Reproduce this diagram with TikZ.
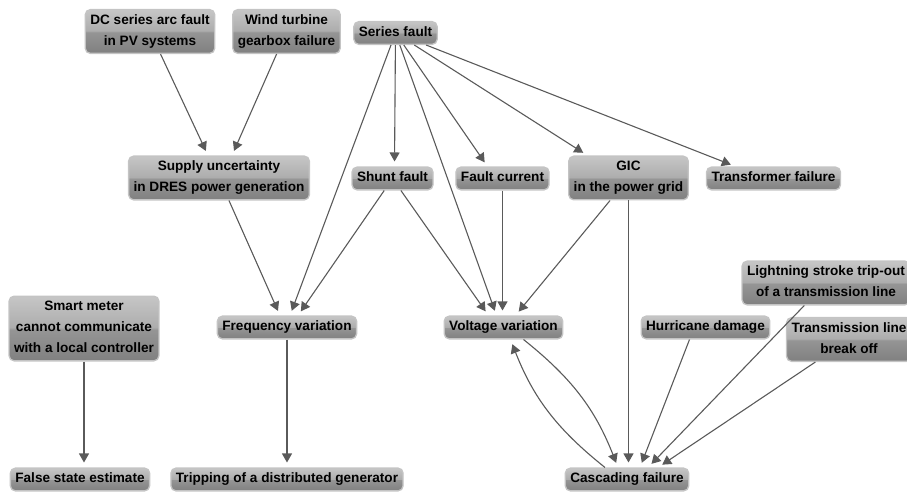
\documentclass[tikz,border=0pt]{standalone}
\usepackage{fontspec}
\setmainfont{Liberation Sans}
\usetikzlibrary{arrows.meta}
\definecolor{gT}{HTML}{C6C6C6}
\definecolor{gU}{HTML}{ADADAD}
\definecolor{gL}{HTML}{959595}
\definecolor{gB}{HTML}{808080}
\definecolor{edgec}{HTML}{5A5A5A}
\definecolor{rim}{HTML}{C4C4C4}
\pgfdeclareverticalshading{gloss}{100bp}{color(0bp)=(gB); color(25bp)=(gB); color(49bp)=(gL); color(51bp)=(gU); color(75bp)=(gT); color(100bp)=(gT)}
\newcommand{\vs}{\rule[-2.9pt]{0pt}{12.7pt}}
\tikzset{
  box/.style={rounded corners=5pt, shade, shading=gloss, draw=rim, line width=1.3pt,
    font=\fontsize{13.6}{21}\selectfont\bfseries, align=center, inner xsep=5pt, inner ysep=5pt, text=black},
  arr/.style={draw=edgec, line width=1.1pt, -{Triangle[length=9pt,width=10pt]}, shorten >=5pt}
}
\begin{document}
\begin{tikzpicture}[x=1pt,y=-1pt]
\useasboundingbox (0,0) rectangle (907,494);
\node[box] (dc) at (150,31.5) {\vs DC series arc fault\\\vs in PV systems};
\node[box] (wind) at (286.5,31.5) {\vs Wind turbine\\\vs gearbox failure};
\node[box] (series) at (395.5,33) {\vs Series fault};
\node[box] (supply) at (219,178) {\vs Supply uncertainty\\\vs in DRES power generation};
\node[box] (shunt) at (392.5,178.5) {\vs Shunt fault};
\node[box] (fcur) at (502.5,178.5) {\vs Fault current};
\node[box] (gic) at (628.5,178) {\vs GIC\\\vs in the power grid};
\node[box] (trans) at (773.5,178.5) {\vs Transformer failure};
\node[box] (light) at (826,283) {\vs Lightning stroke trip-out\\\vs of a transmission line};
\node[box] (smart) at (84,328.5) {\vs Smart meter\\\vs cannot communicate\\\vs with a local controller};
\node[box] (freq) at (287,327.5) {\vs Frequency variation};
\node[box] (volt) at (503.5,327.5) {\vs Voltage variation};
\node[box] (hurr) at (705.5,327.5) {\vs Hurricane damage};
\node[box] (tbreak) at (849,339.5) {\vs Transmission line\\\vs break off};
\node[box] (false) at (80,479.5) {\vs False state estimate};
\node[box] (trip) at (287,479.5) {\vs Tripping of a distributed generator};
\node[box] (casc) at (627,479.5) {\vs Cascading failure};

\draw[arr] (dc) -- ([xshift=-11pt]supply.north);
\draw[arr] (wind) -- ([xshift=13pt]supply.north);
\draw[arr] (series) -- ([xshift=2pt]shunt.north);
\draw[arr] (series) -- ([xshift=-15pt]fcur.north);
\draw[arr] (series) -- ([xshift=-41pt]gic.north);
\draw[arr] (series) -- ([xshift=-38pt]trans.north);
\draw[arr] (series) -- ([xshift=3pt]freq.north);
\draw[arr] (series) -- ([xshift=-7pt]volt.north);
\draw[arr] (supply) -- ([xshift=-7pt]freq.north);
\draw[arr] (shunt) -- ([xshift=11pt]freq.north);
\draw[arr] (shunt) -- ([xshift=-15pt]volt.north);
\draw[arr] (fcur) -- (fcur |- volt.north);
\draw[arr] (gic) -- ([xshift=12pt]volt.north);
\draw[arr] (gic) -- (gic |- casc.north);
\draw[arr] (smart.south) -- (smart.south |- false.north);
\draw[arr] (freq) -- (trip);
\draw[arr] ([xshift=20pt]volt.south) to[bend left=15] ([xshift=-9pt]casc.north);
\draw[arr] ([xshift=-22pt]casc.north) to[bend left=15] ([xshift=7pt]volt.south);
\draw[arr] ([xshift=-16pt]hurr.south) -- ([xshift=13pt]casc.north);
\draw[arr] (light) -- ([xshift=21pt]casc.north);
\draw[arr] (tbreak) -- ([xshift=31pt]casc.north);
\end{tikzpicture}
\end{document}
